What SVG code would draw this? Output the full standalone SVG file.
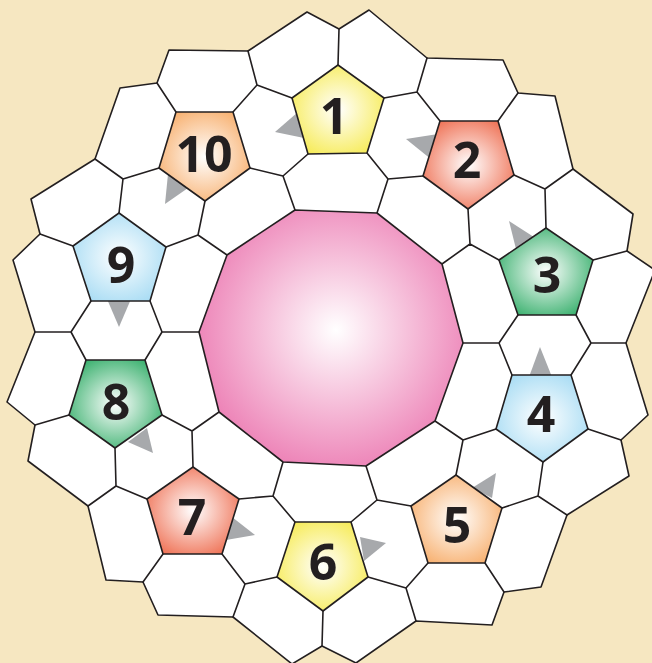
<svg xmlns="http://www.w3.org/2000/svg" width="652" height="663" viewBox="0 0 652 663">
<defs>
<radialGradient id="gY" cx="0.5" cy="0.5" r="0.62"><stop offset="0" stop-color="#ffffff"/><stop offset="1" stop-color="#f6ea4c"/></radialGradient>
<radialGradient id="gR" cx="0.5" cy="0.5" r="0.62"><stop offset="0" stop-color="#ffffff"/><stop offset="1" stop-color="#ee6a4c"/></radialGradient>
<radialGradient id="gG" cx="0.5" cy="0.5" r="0.62"><stop offset="0" stop-color="#ffffff"/><stop offset="1" stop-color="#2fac66"/></radialGradient>
<radialGradient id="gB" cx="0.5" cy="0.5" r="0.62"><stop offset="0" stop-color="#ffffff"/><stop offset="1" stop-color="#a3daf3"/></radialGradient>
<radialGradient id="gO" cx="0.5" cy="0.5" r="0.62"><stop offset="0" stop-color="#ffffff"/><stop offset="1" stop-color="#f7ab66"/></radialGradient>
<radialGradient id="gP" gradientUnits="userSpaceOnUse" cx="336" cy="330" r="150"><stop offset="0" stop-color="#ffffff"/><stop offset="1" stop-color="#ec7cb3"/></radialGradient>
</defs>
<style>
.ln{fill:none;stroke:#231f20;stroke-width:1.6;stroke-linejoin:round;stroke-linecap:round}
.cell{fill:#ffffff;stroke:#231f20;stroke-width:1.6;stroke-linejoin:round}
.pent{stroke:#231f20;stroke-width:1.6;stroke-linejoin:round}
.ar{fill:#a7a9ac}
.num{font-family:"Open Sans","Liberation Sans",sans-serif;font-weight:700;font-size:50px;fill:#231f20;text-anchor:middle}
</style>
<rect width="652" height="663" fill="#f6e7c1"/>
<g id="tiling">
<polygon class="cell" points="307,12 339,29 369,10 427,58 503,60 518,93 555,96 573,169 633,214 627,251 655,270 626,343 648,415 621,440 629,476 567,515 541,587 504,592 492,625 416,621 356,663 322,646 292,664 233,617 158,615 143,582 106,580 88,506 28,461 35,425 7,402 35,332 13,260 40,234 31,199 95,159 120,88 157,83 169,50 248,51"/>
</g>
<g id="connectors">
<path class="ln" d="M257,85L292,98M257,85L233,112M257,85L248,51M338,65L339,29M384,98L417,92M417,92L427,58M417,92L440,121M498,121L518,93M514,175L545,189M545,189L573,169M545,189L546,228M593,260L627,251M576,315L591,343M591,343L626,343M591,343L571,375M518,315L499,343M499,343L463,343M499,343L512,375M588,429L621,440M543,462L538,496M538,496L567,515M538,496L502,508M496,429L463,440M463,440L435,421M463,440L456,475M485,563L504,592M428,563L406,588M406,588L416,621M406,588L368,577M411,506L377,500M377,500L366,466M377,500L351,522M323,611L322,646M277,577L245,584M245,584L233,617M245,584L222,554M295,522L273,496M273,496L283,462M273,496L239,499M163,554L143,582M147,499L116,486M116,486L88,506M116,486L115,448M162,415L192,431M192,431L219,412M192,431L193,467M69,415L35,425M86,360L71,332M71,332L35,332M71,332L91,301M145,360L162,332M162,332L199,332M162,332L150,301M73,246L40,234M119,213L123,179M123,179L95,159M123,179L159,168M166,247L198,235M198,235L205,201M198,235L227,255M250,168L283,176M283,176L308,154M283,176L295,210M176,112L157,83M367,153L388,179M388,179L423,176M388,179L377,213M468,209L470,244M470,244L499,260M470,244L442,264"/>
</g>
<g id="arrows">
<polygon class="ar" points="275,132 298,112 304,138"/>
<polygon class="ar" points="406,139 438,134 432,160"/>
<polygon class="ar" points="509,221 537,239 517,253"/>
<polygon class="ar" points="540,347 529,377 552,377"/>
<polygon class="ar" points="496,473 472,488 492,498"/>
<polygon class="ar" points="386,543 360,537 364,561"/>
<polygon class="ar" points="255,535 232,517 226,540"/>
<polygon class="ar" points="153,453 128,442 147,428"/>
<polygon class="ar" points="119,327 107,299 131,299"/>
<polygon class="ar" points="165,204 188,188 168,174"/>
</g>
<g id="center">
<polygon class="pent" fill="url(#gP)" points="295,210 377,213 442,264 463,343 435,421 366,466 283,462 219,412 199,332 227,255"/>
</g>
<g id="node1"><polygon class="pent" fill="url(#gY)" points="338,65 384,98 367,153 308,154 292,98"/><text class="num" x="334" y="134">1</text></g>
<g id="node2"><polygon class="pent" fill="url(#gR)" points="440,121 498,121 514,175 468,209 423,176"/><text class="num" x="467" y="178">2</text></g>
<g id="node3"><polygon class="pent" fill="url(#gG)" points="546,228 593,260 576,315 518,315 499,260"/><text class="num" x="547" y="293">3</text></g>
<g id="node4"><polygon class="pent" fill="url(#gB)" points="512,375 571,375 588,429 543,462 496,429"/><text class="num" x="541" y="432">4</text></g>
<g id="node5"><polygon class="pent" fill="url(#gO)" points="456,475 502,508 485,563 428,563 411,506"/><text class="num" x="457" y="543">5</text></g>
<g id="node6"><polygon class="pent" fill="url(#gY)" points="295,522 351,522 368,577 323,611 277,577"/><text class="num" x="323" y="580">6</text></g>
<g id="node7"><polygon class="pent" fill="url(#gR)" points="193,467 239,499 222,554 163,554 147,499"/><text class="num" x="192" y="535">7</text></g>
<g id="node8"><polygon class="pent" fill="url(#gG)" points="86,360 145,360 162,415 115,448 69,415"/><text class="num" x="116" y="420">8</text></g>
<g id="node9"><polygon class="pent" fill="url(#gB)" points="119,213 166,247 150,301 91,301 73,246"/><text class="num" x="121" y="283">9</text></g>
<g id="node10"><polygon class="pent" fill="url(#gO)" points="176,112 233,112 250,168 205,201 159,168"/><text class="num" x="204" y="172">10</text></g>
</svg>
